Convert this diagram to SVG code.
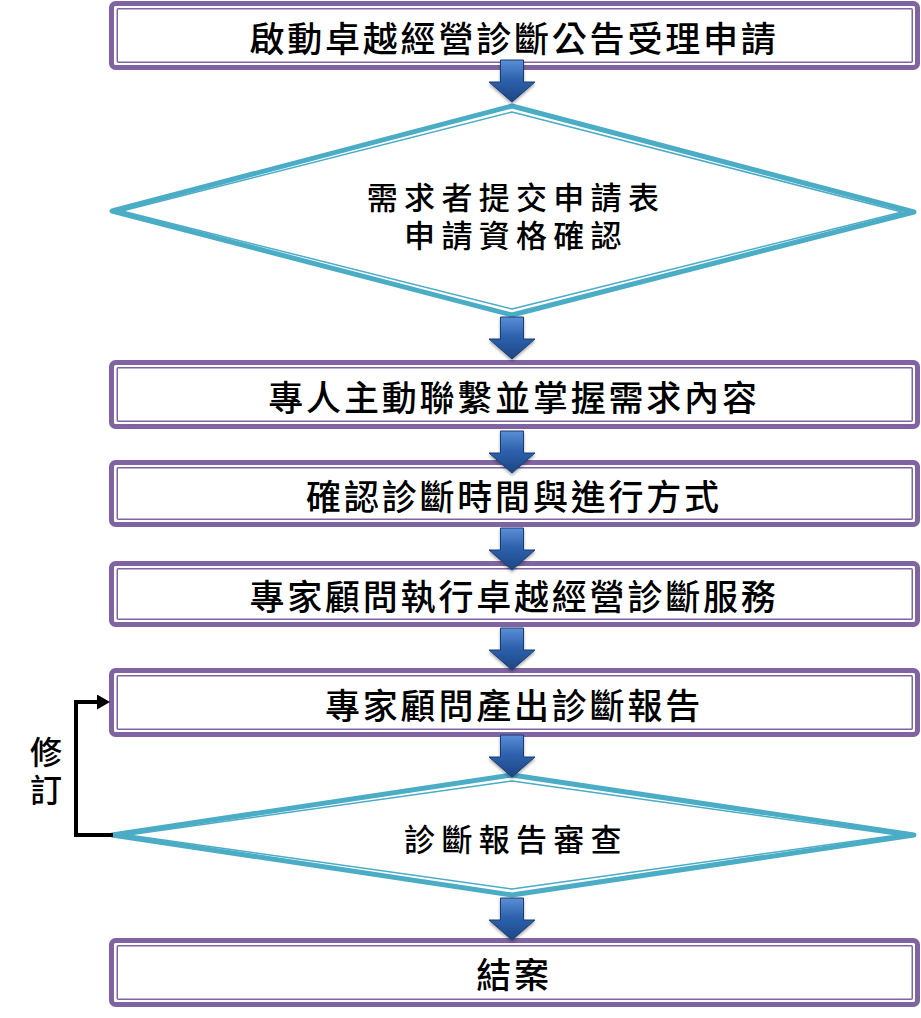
<svg xmlns="http://www.w3.org/2000/svg" width="921" height="1018" viewBox="0 0 921 1018">
  <style>
    .box-o { fill: #ffffff; stroke: #8064a2; stroke-width: 5; }
    .box-i { fill: none; stroke: #8064a2; stroke-width: 1.5; }
    .dia-o { fill: #ffffff; stroke: #4bacc6; stroke-width: 5; stroke-linejoin: round; }
    .dia-i { fill: none; stroke: #4bacc6; stroke-width: 1.5; stroke-linejoin: round; }
    .bt { font-family: "Noto Sans CJK TC", "Noto Sans CJK SC", sans-serif; font-size: 35px; font-weight: 500; fill: #000000; text-anchor: middle; dominant-baseline: central; letter-spacing: 2.8px; }
    .dt { font-family: "Noto Sans CJK TC", "Noto Sans CJK SC", sans-serif; font-size: 31px; font-weight: 500; fill: #000000; text-anchor: middle; dominant-baseline: central; letter-spacing: 6.3px; }
    .lt { font-family: "Noto Sans CJK TC", "Noto Sans CJK SC", sans-serif; font-size: 32px; font-weight: 500; fill: #000000; text-anchor: middle; writing-mode: vertical-rl; letter-spacing: 6px; }
    .arrow { fill: url(#arrowGrad); stroke: #1b3d72; stroke-width: 1; filter: url(#shadow); }
    .loop { fill: none; stroke: #000000; stroke-width: 4; stroke-linejoin: miter; }
  </style>
  <defs>
    <linearGradient id="arrowGrad" x1="0" y1="0" x2="0" y2="1">
      <stop offset="0" stop-color="#5a8fd6"/>
      <stop offset="0.45" stop-color="#2e63ae"/>
      <stop offset="1" stop-color="#1d4584"/>
    </linearGradient>
    <filter id="shadow" x="-30%" y="-30%" width="160%" height="160%">
      <feDropShadow dx="0" dy="2" stdDeviation="1.5" flood-color="#000000" flood-opacity="0.35"/>
    </filter>
    <path id="blockArrow" d="M-11.5,0 H11.5 V22 H23 L0,42 L-23,22 H-11.5 Z"/>
    <marker id="loopHead" markerUnits="userSpaceOnUse" markerWidth="13" markerHeight="15" refX="3" refY="7.5" orient="auto">
      <path d="M0,0 L13,7.5 L0,15 Z" fill="#000000"/>
    </marker>
  </defs>

  <!-- Nodes -->
  <g id="node-start">
    <rect class="box-o" x="111.5" y="3.5" width="806" height="64" rx="4"/>
    <rect class="box-i" x="117.25" y="8.75" width="795" height="53.5" rx="1"/>
    <text class="bt" x="514" y="36">啟動卓越經營診斷公告受理申請</text>
  </g>

  <g id="node-apply">
    <polygon class="dia-o" points="512,106 914,212 512,315 112,211"/>
    <polygon class="dia-i" points="512,112 902,212 512,309 122,211"/>
    <text class="dt"><tspan x="516" y="195">需求者提交申請表</tspan><tspan x="516" y="233">申請資格確認</tspan></text>
  </g>

  <g id="node-contact">
    <rect class="box-o" x="111.5" y="362.5" width="806" height="64" rx="4"/>
    <rect class="box-i" x="117.25" y="367.75" width="795" height="53.5" rx="1"/>
    <text class="bt" x="514" y="395">專人主動聯繫並掌握需求內容</text>
  </g>

  <g id="node-schedule">
    <rect class="box-o" x="111.5" y="462.5" width="806" height="62" rx="4"/>
    <rect class="box-i" x="117.25" y="467.75" width="795" height="51.5" rx="1"/>
    <text class="bt" x="514" y="494">確認診斷時間與進行方式</text>
  </g>

  <g id="node-execute">
    <rect class="box-o" x="111.5" y="563.5" width="806" height="61" rx="4"/>
    <rect class="box-i" x="117.25" y="568.75" width="795" height="50.5" rx="1"/>
    <text class="bt" x="514" y="594">專家顧問執行卓越經營診斷服務</text>
  </g>

  <g id="node-report">
    <rect class="box-o" x="111.5" y="670.5" width="806" height="64" rx="4"/>
    <rect class="box-i" x="117.25" y="675.75" width="795" height="53.5" rx="1"/>
    <text class="bt" x="514" y="703">專家顧問產出診斷報告</text>
  </g>

  <g id="node-review">
    <polygon class="dia-o" points="512,775 914,835 512,895 112,835"/>
    <polygon class="dia-i" points="512,781 898,835 512,889 128,835"/>
    <text class="dt" x="516" y="837">診斷報告審查</text>
  </g>

  <g id="node-end">
    <rect class="box-o" x="111.5" y="940.5" width="806" height="64" rx="4"/>
    <rect class="box-i" x="117.25" y="945.75" width="795" height="53.5" rx="1"/>
    <text class="bt" x="514" y="972">結案</text>
  </g>

  <!-- Connectors -->
  <g id="connectors">
    <use href="#blockArrow" class="arrow" transform="translate(512,60)"/>
    <use href="#blockArrow" class="arrow" transform="translate(512,317)"/>
    <use href="#blockArrow" class="arrow" transform="translate(512,431)"/>
    <use href="#blockArrow" class="arrow" transform="translate(512,528)"/>
    <use href="#blockArrow" class="arrow" transform="translate(512,628)"/>
    <use href="#blockArrow" class="arrow" transform="translate(512,735)"/>
    <use href="#blockArrow" class="arrow" transform="translate(512,898)"/>
    <path class="loop" d="M113,835 H76 V702 H100" marker-end="url(#loopHead)"/>
    <text class="lt" x="46" y="774">修訂</text>
  </g>
</svg>
